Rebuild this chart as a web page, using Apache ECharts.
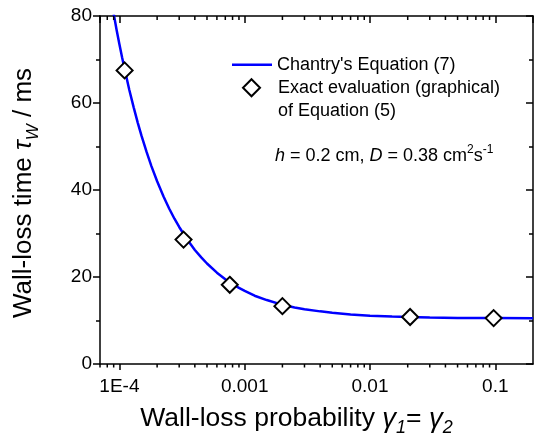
<!DOCTYPE html>
<html><head><meta charset="utf-8">
<script src="https://cdn.jsdelivr.net/npm/echarts@6/dist/echarts.min.js"></script>
<style>html,body{margin:0;padding:0;background:#fff}#c{width:534px;height:440px}</style>
</head><body><div id="c"></div>
<script>
// Chantry's Equation (7) curve
const curveGamma = [8.9e-5, 9.5e-5, 1.0e-4, 1.05e-4, 1.1e-4, 1.2e-4, 1.3e-4, 1.4e-4, 1.5e-4, 1.65e-4, 1.8e-4, 2.0e-4, 2.25e-4, 2.5e-4, 2.75e-4, 3.0e-4, 3.5e-4, 4.0e-4, 4.5e-4, 5.0e-4, 6.0e-4, 7.0e-4, 8.0e-4, 9.0e-4, 1.0e-3, 1.2e-3, 1.5e-3, 2.0e-3, 2.5e-3, 3.0e-3, 4.0e-3, 5.0e-3, 7.0e-3, 0.01, 0.015, 0.02, 0.03, 0.05, 0.1, 0.2];
const curveTau   = [81.3, 76.8, 73.5, 70.5, 67.8, 63.0, 59.0, 55.5, 52.5, 48.7, 45.5, 42.0, 38.5, 35.7, 33.4, 31.5, 28.5, 26.2, 24.5, 23.1, 21.0, 19.5, 18.4, 17.5, 16.8, 15.7, 14.7, 13.6, 13.0, 12.6, 12.1, 11.8, 11.4, 11.1, 10.9, 10.8, 10.7, 10.6, 10.55, 10.5];
// Exact evaluation (graphical) of Equation (5)
const exactGamma = [1.1e-4, 3.25e-4, 7.6e-4, 2.0e-3, 0.0209, 0.097];
const exactTau   = [67.5, 28.6, 18.2, 13.3, 10.8, 10.55];
// axes
const xMin = 7.0e-5, xMax = 0.2;
const xTickValues = [1e-4, 1e-3, 1e-2, 1e-1];
const xTickLabels = ['1E-4', '0.001', '0.01', '0.1'];
const yMin = 0, yMax = 80, yStep = 20;
const seriesNames = ["Chantry's Equation (7)", "Exact evaluation (graphical)\nof Equation (5)"];

const FONT = "'Liberation Sans', Arial, Helvetica, sans-serif";
const minorTicks = [];
for (let k = -5; k <= -1; k++) for (let m = 2; m <= 9; m++) {
  const v = m * Math.pow(10, k);
  if (v > xMin && v < xMax) minorTicks.push([v, 0]);
}
function xLabel(v) {
  for (let i = 0; i < xTickValues.length; i++) {
    if (Math.abs(Math.log10(v) - Math.log10(xTickValues[i])) < 1e-6) return xTickLabels[i];
  }
  return '';
}
const axisLineStyle = { color: '#000', width: 1.5 };
const chart = echarts.init(document.getElementById('c'), null, { renderer: 'canvas' });
chart.setOption({
  animation: false,
  backgroundColor: '#fff',
  textStyle: { fontFamily: FONT, color: '#000' },
  grid: { left: 100, right: 1, top: 16, bottom: 76, containLabel: false, outerBoundsMode: 'none' },
  legend: [
    { data: [{ name: seriesNames[0], icon: 'path://M0,0h40v2.5h-40z' }], left: 232, top: 53, padding: 0, itemWidth: 40, itemHeight: 17, selectedMode: false,
      textStyle: { fontFamily: FONT, fontSize: 18, lineHeight: 23.5, color: '#000' } },
    { data: [{ name: seriesNames[1] }], left: 242, top: 52.5, padding: 0, itemWidth: 17, itemHeight: 17, selectedMode: false,
      formatter: function (n) { return ' \n' + n; },
      textStyle: { fontFamily: FONT, fontSize: 18, lineHeight: 23.5, color: '#000', padding: [0, 0, 0, 13] } }
  ],
  graphic: [{
    type: 'text', x: 275, y: 156,
    style: {
      text: '{i|h} = 0.2 cm, {i|D} = 0.38 cm{sup|2}s{sup|-1}',
      fontFamily: FONT, fontSize: 18, lineHeight: 24, fill: '#000', verticalAlign: 'middle',
      rich: {
        i: { fontFamily: FONT, fontSize: 18, fontStyle: 'italic', lineHeight: 24 },
        sup: { fontFamily: FONT, fontSize: 12, lineHeight: 12, verticalAlign: 'top' }
      }
    }
  }],
  xAxis: [{
    type: 'log', logBase: 10, min: xMin, max: xMax, position: 'bottom', gridIndex: 0,
    axisLine: { show: true, onZero: false, lineStyle: axisLineStyle },
    axisTick: { show: true, length: 6, lineStyle: axisLineStyle },
    axisLabel: { fontFamily: FONT, fontSize: 19, color: '#000', margin: 13, showMinLabel: false, showMaxLabel: false, formatter: xLabel },
    splitLine: { show: false },
    name: 'Wall-loss probability {g|γ}{s|1}= {g|γ}{s|2}',
    nameLocation: 'middle', nameGap: 36,
    nameTextStyle: {
      fontFamily: FONT, fontSize: 26.5, lineHeight: 36, color: '#000', padding: [0, 40, 0, 0],
      rich: {
        g: { fontFamily: FONT, fontSize: 27.5, fontStyle: 'italic', lineHeight: 36 },
        s: { fontFamily: FONT, fontSize: 18, fontStyle: 'italic', lineHeight: 18, verticalAlign: 'bottom' }
      }
    }
  }, {
    type: 'log', logBase: 10, min: xMin, max: xMax, position: 'top', gridIndex: 0,
    axisLine: { show: true, onZero: false, lineStyle: axisLineStyle },
    axisTick: { show: true, inside: true, length: 7, lineStyle: axisLineStyle },
    axisLabel: { show: false }, splitLine: { show: false }
  }],
  yAxis: [{
    type: 'value', min: yMin, max: yMax, interval: yStep, position: 'left', gridIndex: 0,
    axisLine: { show: true, onZero: false, lineStyle: axisLineStyle },
    axisTick: { show: true, length: 7, lineStyle: axisLineStyle },
    minorTick: { show: true, splitNumber: 2, length: 4, lineStyle: axisLineStyle },
    axisLabel: { fontFamily: FONT, fontSize: 19, color: '#000', margin: 8 },
    splitLine: { show: false },
    name: 'Wall-loss time {t|τ}{s|W} / ms',
    nameLocation: 'middle', nameGap: 58, nameRotate: 90,
    nameTextStyle: {
      fontFamily: FONT, fontSize: 26, lineHeight: 36, color: '#000', padding: [0, 6, 0, 0],
      rich: {
        t: { fontFamily: FONT, fontSize: 26, fontStyle: 'italic', lineHeight: 36 },
        s: { fontFamily: FONT, fontSize: 17, fontStyle: 'italic', lineHeight: 17, verticalAlign: 'bottom' }
      }
    }
  }, {
    type: 'value', min: yMin, max: yMax, interval: yStep, position: 'right', gridIndex: 0,
    axisLine: { show: true, onZero: false, lineStyle: axisLineStyle },
    axisTick: { show: true, inside: true, length: 7, lineStyle: axisLineStyle },
    minorTick: { show: true, splitNumber: 2, length: 4, lineStyle: axisLineStyle },
    axisLabel: { show: false }, splitLine: { show: false }
  }],
  series: [{
    name: seriesNames[0], type: 'line', xAxisIndex: 0, yAxisIndex: 0,
    data: curveGamma.map((g, i) => [g, curveTau[i]]),
    showSymbol: false, symbol: 'none', smooth: false, clip: true,
    lineStyle: { color: '#0000ff', width: 2.5 }, itemStyle: { color: '#0000ff' }, z: 2
  }, {
    name: seriesNames[1], type: 'scatter', xAxisIndex: 0, yAxisIndex: 0,
    data: exactGamma.map((g, i) => [g, exactTau[i]]),
    symbol: 'diamond', symbolSize: 16,
    itemStyle: { color: '#fff', borderColor: '#000', borderWidth: 2, opacity: 1 }, z: 3
  }, {
    type: 'custom', xAxisIndex: 0, yAxisIndex: 0, silent: true, clip: false, z: 4,
    data: minorTicks,
    renderItem: function (params, api) {
      const pb = api.coord([api.value(0), yMin]);
      const pt = api.coord([api.value(0), yMax]);
      return { type: 'group', children: [
        { type: 'line', shape: { x1: pb[0], y1: pb[1], x2: pb[0], y2: pb[1] + 3.5 }, style: { stroke: '#000', lineWidth: 1.5 } },
        { type: 'line', shape: { x1: pt[0], y1: pt[1], x2: pt[0], y2: pt[1] + 4 }, style: { stroke: '#000', lineWidth: 1.5 } }
      ] };
    }
  }]
});
</script>
</body></html>
